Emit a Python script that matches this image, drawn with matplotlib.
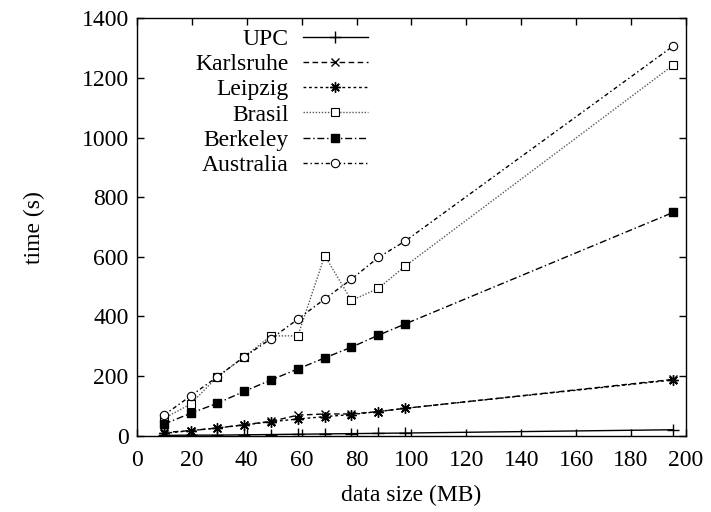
import matplotlib
matplotlib.use("Agg")
import matplotlib.pyplot as plt

plt.rcParams['font.family'] = ['Liberation Serif', 'DejaVu Serif']
plt.rcParams['font.size'] = 17

# data size in MB (x) and time in seconds for each site
data_size = [9.8, 19.5, 29.3, 39.1, 48.8, 58.6, 68.4, 78.1, 87.9, 97.7, 195.3]
upc = [1, 2, 2, 3, 4, 5, 6, 7, 8, 9, 20]
karlsruhe = [11, 17, 26, 37, 48, 69, 73, 73, 81, 92, 189]
leipzig = [8, 17, 26, 36, 47, 56, 64, 71, 81, 92, 187]
brasil = [58, 106, 198, 265, 335, 335, 604, 454, 494, 569, 1243]
berkeley = [39, 75, 109, 149, 187, 224, 261, 297, 337, 375, 749]
australia = [69, 133, 198, 265, 325, 391, 459, 525, 598, 653, 1307]

fig = plt.figure(figsize=(7.11, 5.12), dpi=100)
ax = fig.add_axes([0.1927, 0.149, 0.7721, 0.815])

ax.plot(data_size, upc, color='black', lw=1, ls='-', marker='+', ms=8,
        label='UPC')
ax.plot(data_size, karlsruhe, color='black', lw=1, dashes=(4, 2.5),
        marker='x', ms=5.5, label='Karlsruhe')
ax.plot(data_size, leipzig, color='black', lw=1, dashes=(2, 2),
        marker=(8, 2, 0), ms=7.5, label='Leipzig')
ax.plot(data_size, brasil, color='0.35', lw=1, dashes=(1, 1.2),
        marker='s', ms=5.5, mfc='white', mec='black', mew=0.8, label='Brasil')
ax.plot(data_size, berkeley, color='black', lw=1, dashes=(5, 2, 1, 2),
        marker='s', ms=6, mfc='black', mec='black', label='Berkeley')
ax.plot(data_size, australia, color='black', lw=1, dashes=(3, 2, 1, 2),
        marker='o', ms=6, mfc='white', mec='black', mew=0.8,
        label='Australia')

ax.set_xlim(0, 200)
ax.set_ylim(0, 1400)
ax.set_xticks(range(0, 201, 20))
ax.set_yticks(range(0, 1401, 200))
ax.tick_params(direction='in', top=True, right=True, length=5, width=1)
ax.tick_params(axis='x', pad=10)
ax.tick_params(axis='y', pad=6)
for s in ax.spines.values():
    s.set_linewidth(1)

ax.set_xlabel('data size (MB)', labelpad=10)
ax.set_ylabel('time (s)', labelpad=26)

ax.legend(loc='upper left', bbox_to_anchor=(0.076, 1.016), frameon=False,
          markerfirst=False, numpoints=1, handlelength=2.75,
          labelspacing=0.16, borderpad=0.2, handletextpad=0.6)

fig.savefig('out.png', dpi=100)
